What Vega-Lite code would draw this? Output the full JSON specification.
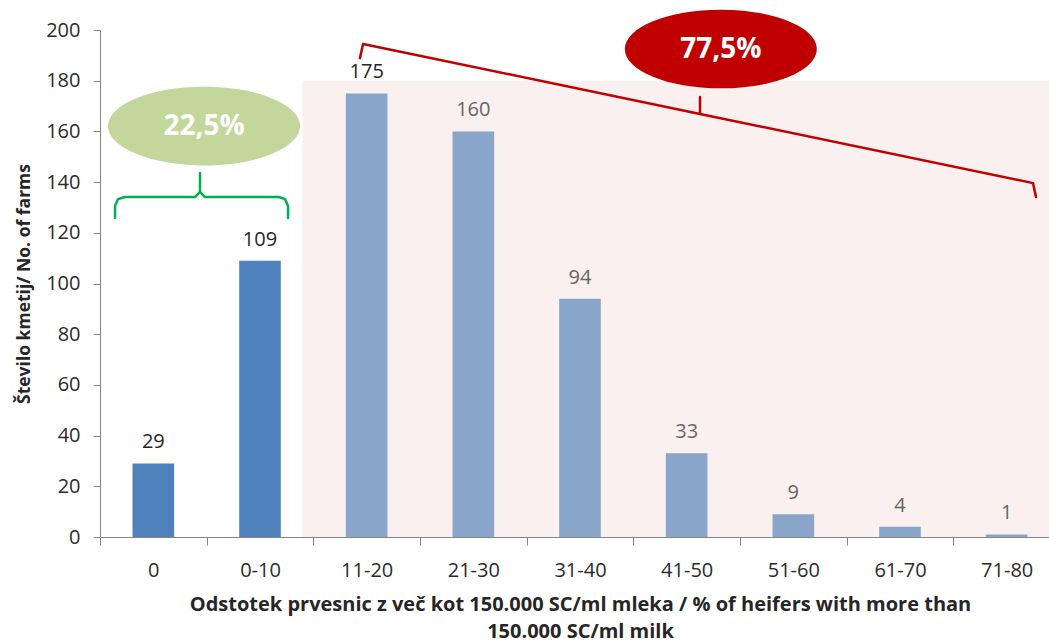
{
  "$schema": "https://vega.github.io/schema/vega-lite/v6.json",
  "width": 949,
  "height": 507,
  "autosize": {"type": "none"},
  "padding": {"left": 100, "top": 30, "right": 0, "bottom": 107},
  "background": "white",
  "config": {"view": {"stroke": null}, "font": "Open Sans"},
  "datasets": {
    "bars": [
      {"range": "0", "farms": 29, "share": "22,5%"},
      {"range": "0-10", "farms": 109, "share": "22,5%"},
      {"range": "11-20", "farms": 175, "share": "77,5%"},
      {"range": "21-30", "farms": 160, "share": "77,5%"},
      {"range": "31-40", "farms": 94, "share": "77,5%"},
      {"range": "41-50", "farms": 33, "share": "77,5%"},
      {"range": "51-60", "farms": 9, "share": "77,5%"},
      {"range": "61-70", "farms": 4, "share": "77,5%"},
      {"range": "71-80", "farms": 1, "share": "77,5%"}
    ],
    "region": [{"from": 1.897, "to": 9, "low": 0, "high": 180}],
    "bubbles": [
      {"label": "22,5%", "x": 0.975, "y": 162.1, "share": "22,5%"},
      {"label": "77,5%", "x": 5.82, "y": 192.5, "share": "77,5%"}
    ],
    "greenBrace": [
      {"i": 1, "x": 0.141, "y": 125.8},
      {"i": 2, "x": 0.141, "y": 130.6},
      {"i": 3, "x": 0.169, "y": 133.3},
      {"i": 4, "x": 0.234, "y": 134.1},
      {"i": 5, "x": 0.891, "y": 134.1},
      {"i": 6, "x": 0.9375, "y": 136.1},
      {"i": 7, "x": 0.9375, "y": 143.6},
      {"i": 8, "x": 0.9375, "y": 136.1},
      {"i": 9, "x": 0.984, "y": 134.1},
      {"i": 10, "x": 1.678, "y": 134.1},
      {"i": 11, "x": 1.734, "y": 133.3},
      {"i": 12, "x": 1.763, "y": 130.6},
      {"i": 13, "x": 1.763, "y": 125.8}
    ],
    "redBracket": [
      {"i": 1, "x": 2.437, "y": 188.9},
      {"i": 2, "x": 2.466, "y": 194.5},
      {"i": 3, "x": 5.625, "y": 166.9},
      {"i": 4, "x": 5.625, "y": 173.6},
      {"i": 5, "x": 5.625, "y": 166.9},
      {"i": 6, "x": 8.747, "y": 139.6},
      {"i": 7, "x": 8.775, "y": 134.1}
    ]
  },
  "layer": [
    {
      "data": {"name": "region"},
      "mark": {"type": "rect", "color": "#F9F0EF"},
      "encoding": {
        "x": {"field": "from", "type": "quantitative", "scale": {"domain": [0, 9], "range": [0, 960], "nice": false, "zero": false}, "axis": null},
        "x2": {"field": "to"},
        "y": {"field": "low", "type": "quantitative", "scale": {"domain": [0, 200]}},
        "y2": {"field": "high"}
      }
    },
    {
      "data": {"name": "bars"},
      "mark": {"type": "bar", "width": {"band": 0.39}},
      "encoding": {
        "x": {
          "field": "range", "type": "nominal", "sort": null,
          "scale": {"range": [0, 960], "paddingInner": 0, "paddingOuter": 0},
          "axis": {
            "title": ["Odstotek prvesnic z več kot 150.000 SC/ml mleka / % of heifers with more than", "150.000 SC/ml milk"],
            "labelAngle": 0, "tickBand": "extent", "tickSize": 8, "labelPadding": 15,
            "labelFontSize": 20, "labelColor": "#2b2b2b",
            "domainColor": "#868686", "tickColor": "#868686", "grid": false,
            "titleFontSize": 20, "titleFontWeight": "bold", "titleColor": "#262626",
            "titlePadding": 14, "titleLineHeight": 27
          }
        },
        "y": {
          "field": "farms", "type": "quantitative", "scale": {"domain": [0, 200]},
          "axis": {
            "title": "Število kmetij/ No. of farms",
            "values": [0, 20, 40, 60, 80, 100, 120, 140, 160, 180, 200],
            "tickSize": 7, "labelPadding": 13, "labelFontSize": 20, "labelColor": "#2b2b2b",
            "domainColor": "#868686", "tickColor": "#868686", "grid": false,
            "titleFontSize": 17.5, "titleFontWeight": "bold", "titleColor": "#262626",
            "titlePadding": 12
          }
        },
        "color": {"field": "share", "type": "nominal", "scale": {"domain": ["22,5%", "77,5%"], "range": ["#4F81BD", "#8AA5CA"]}, "legend": null}
      }
    },
    {
      "data": {"name": "bars"},
      "mark": {"type": "text", "baseline": "alphabetic", "dy": -15, "fontSize": 20},
      "encoding": {
        "x": {"field": "range", "type": "nominal", "sort": null, "scale": {"range": [0, 960], "paddingInner": 0, "paddingOuter": 0}, "axis": null},
        "y": {"field": "farms", "type": "quantitative", "scale": {"domain": [0, 200]}},
        "text": {"field": "farms"},
        "color": {"condition": {"test": "indexof(['0','0-10','11-20'], datum.range) >= 0", "value": "#262626"}, "value": "#666666"}
      }
    },
    {
      "data": {"name": "greenBrace"},
      "mark": {"type": "line", "color": "#00B050", "strokeWidth": 2.5, "strokeJoin": "round", "strokeCap": "round"},
      "encoding": {
        "x": {"field": "x", "type": "quantitative", "scale": {"domain": [0, 9], "range": [0, 960], "nice": false, "zero": false}, "axis": null},
        "y": {"field": "y", "type": "quantitative", "scale": {"domain": [0, 200]}},
        "order": {"field": "i", "type": "quantitative"}
      }
    },
    {
      "data": {"name": "redBracket"},
      "mark": {"type": "line", "color": "#C00000", "strokeWidth": 2.5, "strokeJoin": "round", "strokeCap": "round"},
      "encoding": {
        "x": {"field": "x", "type": "quantitative", "scale": {"domain": [0, 9], "range": [0, 960], "nice": false, "zero": false}, "axis": null},
        "y": {"field": "y", "type": "quantitative", "scale": {"domain": [0, 200]}},
        "order": {"field": "i", "type": "quantitative"}
      }
    },
    {
      "data": {"name": "bubbles"},
      "mark": {
        "type": "point", "filled": true, "opacity": 1, "strokeWidth": 0, "size": 36864,
        "shape": "M -1 0 C -1 -0.2264 -0.552 -0.41 0 -0.41 C 0.552 -0.41 1 -0.2264 1 0 C 1 0.2264 0.552 0.41 0 0.41 C -0.552 0.41 -1 0.2264 -1 0 Z"
      },
      "encoding": {
        "x": {"field": "x", "type": "quantitative", "scale": {"domain": [0, 9], "range": [0, 960], "nice": false, "zero": false}, "axis": null},
        "y": {"field": "y", "type": "quantitative", "scale": {"domain": [0, 200]}},
        "color": {"field": "share", "type": "nominal", "scale": {"domain": ["22,5%", "77,5%"], "range": ["#C3D69B", "#C00000"]}, "legend": null}
      }
    },
    {
      "data": {"name": "bubbles"},
      "mark": {"type": "text", "fontSize": 28, "fontWeight": "bold", "color": "white", "baseline": "middle", "dy": 1},
      "encoding": {
        "x": {"field": "x", "type": "quantitative", "scale": {"domain": [0, 9], "range": [0, 960], "nice": false, "zero": false}, "axis": null},
        "y": {"field": "y", "type": "quantitative", "scale": {"domain": [0, 200]}},
        "text": {"field": "label"}
      }
    }
  ],
  "resolve": {"scale": {"x": "independent", "color": "independent"}}
}
